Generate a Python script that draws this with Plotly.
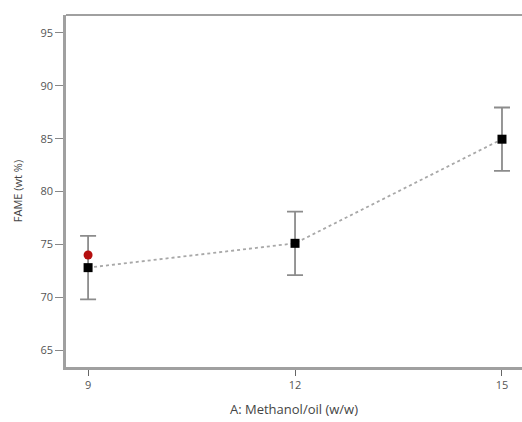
import plotly.graph_objects as go

x_levels = [9, 12, 15]
fame_pred = [72.8, 75.1, 84.95]
err_low = [69.8, 72.1, 81.95]
err_high = [75.8, 78.1, 87.95]
actual_x = [9]
actual_y = [74.0]

x_ticks = [9, 12, 15]
y_ticks = [65, 70, 75, 80, 85, 90, 95]

fig = go.Figure()

# error bars
fig.add_trace(go.Scatter(
    x=x_levels, y=fame_pred, mode="markers",
    marker=dict(size=1, color="rgba(0,0,0,0)"),
    error_y=dict(type="data", symmetric=False,
                 array=[h - p for h, p in zip(err_high, fame_pred)],
                 arrayminus=[p - l for p, l in zip(fame_pred, err_low)],
                 color="#8c8c8c", thickness=1.8, width=8),
    showlegend=False, hoverinfo="skip"))

# dotted prediction line
fig.add_trace(go.Scatter(
    x=x_levels, y=fame_pred, mode="lines",
    line=dict(color="#a8a8a8", width=1.8, dash="dot"),
    showlegend=False))

fig.add_trace(go.Scatter(
    x=x_levels, y=fame_pred, mode="markers",
    marker=dict(symbol="square", size=9, color="black"),
    showlegend=False))

fig.add_trace(go.Scatter(
    x=actual_x, y=actual_y, mode="markers",
    marker=dict(symbol="circle", size=9, color="#b50f0f"),
    showlegend=False))

fig.add_shape(type="line", xref="paper", yref="paper", x0=0, x1=1, y0=1, y1=1,
              line=dict(color="#a0a0a0", width=2))

fig.update_layout(
    width=522, height=422,
    margin=dict(l=66, r=0, t=15, b=55),
    paper_bgcolor="white", plot_bgcolor="white",
    font=dict(family="Open Sans, DejaVu Sans, sans-serif", color="#555555", size=11),
    xaxis=dict(range=[8.68, 15.29], tickvals=x_ticks, ticks="outside", ticklen=6,
               tickcolor="#666666", tickwidth=1, showgrid=False, zeroline=False,
               showline=True, linecolor="#a0a0a0", linewidth=2.5,
               title=dict(text="A: Methanol/oil (w/w)", font=dict(size=13, color="#444444"),
                          standoff=14)),
    yaxis=dict(range=[63.4, 96.7], tickvals=y_ticks, ticks="outside", ticklen=8,
               tickcolor="#888888", tickwidth=1, showgrid=False, zeroline=False,
               showline=True, linecolor="#a0a0a0", linewidth=2.5,
               title=dict(text="FAME (wt %)", font=dict(size=11, color="#444444"),
                          standoff=16)),
)

fig.write_html("out.html")
